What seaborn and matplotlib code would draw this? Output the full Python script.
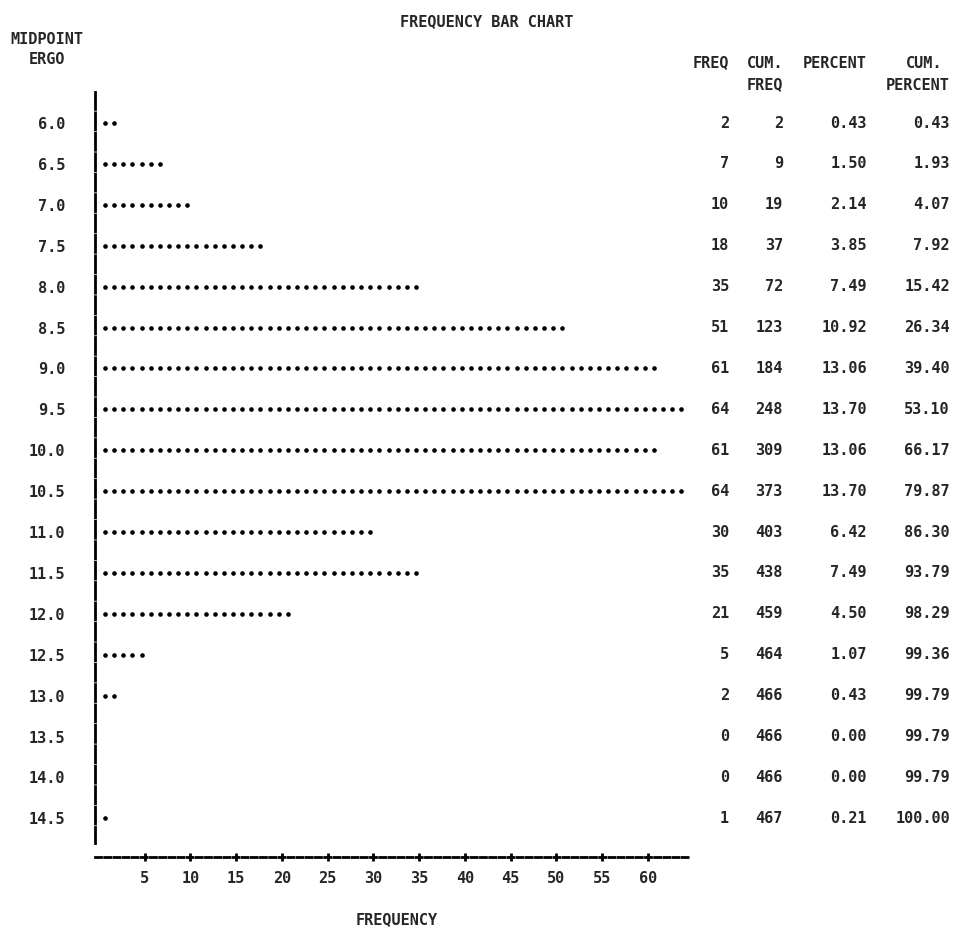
import numpy as np
import pandas as pd
import seaborn as sns
import matplotlib
matplotlib.use("Agg")
import matplotlib.pyplot as plt
import matplotlib.transforms as mtransforms

# ===============================
# DATA
# ===============================
midpoints = [6.0, 6.5, 7.0, 7.5, 8.0, 8.5, 9.0, 9.5, 10.0,
             10.5, 11.0, 11.5, 12.0, 12.5, 13.0, 13.5, 14.0, 14.5]
freq = [2, 7, 10, 18, 35, 51, 61, 64, 61, 64, 30, 35, 21, 5, 2, 0, 0, 1]
cum_freq = [2, 9, 19, 37, 72, 123, 184, 248, 309, 373, 403, 438, 459, 464, 466, 466, 466, 467]
percent = [0.43, 1.50, 2.14, 3.85, 7.49, 10.92, 13.06, 13.70, 13.06,
           13.70, 6.42, 7.49, 4.50, 1.07, 0.43, 0.00, 0.00, 0.21]
cum_percent = [0.43, 1.93, 4.07, 7.92, 15.42, 26.34, 39.40, 53.10, 66.17,
               79.87, 86.30, 93.79, 98.29, 99.36, 99.79, 99.79, 99.79, 100.00]
x_ticks = [5, 10, 15, 20, 25, 30, 35, 40, 45, 50, 55, 60]

# one symbol per observation, like the printed chart
dots = pd.DataFrame(
    [(k - 0.35, m) for m, f in zip(midpoints, freq) for k in range(1, f + 1)],
    columns=["FREQUENCY", "ERGO"],
)

# ===============================
# STYLE
# ===============================
sns.set_style("white")
plt.rcParams["font.family"] = ["DejaVu Sans Mono"]
plt.rcParams["font.weight"] = "bold"
plt.rcParams["lines.scale_dashes"] = False
FS = 11
W, H = 954, 931


def fx(px):
    return px / W


def fy(py):
    return 1 - py / H


fig = plt.figure(figsize=(W / 100, H / 100), dpi=100)
ax = fig.add_axes([fx(95.3), fy(857), (690 - 95.3) / W, (857 - 92) / H])

sns.scatterplot(data=dots, x="FREQUENCY", y="ERGO", ax=ax,
                color="black", s=11, linewidth=0, legend=False)

ax.set_xlim(-0.4, 64.6)
ax.set_ylim(14.973, 5.621)

# axes drawn like a line printer
for side in ["top", "right"]:
    ax.spines[side].set_visible(False)
ax.spines["bottom"].set_linewidth(2)
ax.spines["bottom"].set_linestyle((0, (4.3, 2.3)))
ax.spines["left"].set_linewidth(2)
ax.spines["left"].set_linestyle((0, (12.2, 2.5)))
ax.spines["left"].set_bounds(5.621, 14.80)
ax.spines["bottom"].set_color("black")
ax.spines["left"].set_color("black")

ax.set_xticks(x_ticks)
ax.set_xticklabels([str(t) for t in x_ticks], fontsize=FS, fontweight="bold")
ax.tick_params(axis="x", direction="inout", length=6, width=2,
               color="black", bottom=True, pad=7)

ax.set_yticks(midpoints)
ax.set_yticklabels([f"{m:.1f}" for m in midpoints], fontsize=FS, fontweight="bold")
ax.tick_params(axis="y", length=0, pad=21.8)

ax.set_xlabel("FREQUENCY", fontsize=FS, fontweight="bold")
ax.xaxis.label.set_va("center")
ax.xaxis.set_label_coords((397 - 95.3) / (690 - 95.3), (857 - 920) / (857 - 92))
ax.set_ylabel("")

# ===============================
# HEADERS
# ===============================
txt = dict(fontsize=FS, fontweight="bold", va="center")
fig.text(fx(400), fy(22), "FREQUENCY BAR CHART", ha="left", **txt)
fig.text(fx(47), fy(40), "MIDPOINT", ha="center", **txt)
fig.text(fx(65), fy(60), "ERGO", ha="right", **txt)

fig.text(fx(729), fy(63), "FREQ", ha="right", **txt)
fig.text(fx(783), fy(63), "CUM.", ha="right", **txt)
fig.text(fx(783), fy(85), "FREQ", ha="right", **txt)
fig.text(fx(867), fy(63), "PERCENT", ha="right", **txt)
fig.text(fx(942), fy(63), "CUM.", ha="right", **txt)
fig.text(fx(950), fy(85), "PERCENT", ha="right", **txt)

# ===============================
# TABLE
# ===============================
trans = mtransforms.blended_transform_factory(fig.transFigure, ax.transData)
for m, f, cf, p, cp in zip(midpoints, freq, cum_freq, percent, cum_percent):
    ax.text(fx(729), m, f"{f}", transform=trans, ha="right", **txt)
    ax.text(fx(783), m, f"{cf}", transform=trans, ha="right", **txt)
    ax.text(fx(867), m, f"{p:.2f}", transform=trans, ha="right", **txt)
    ax.text(fx(950), m, f"{cp:.2f}", transform=trans, ha="right", **txt)

fig.savefig("out.png", dpi=100, facecolor="white")
